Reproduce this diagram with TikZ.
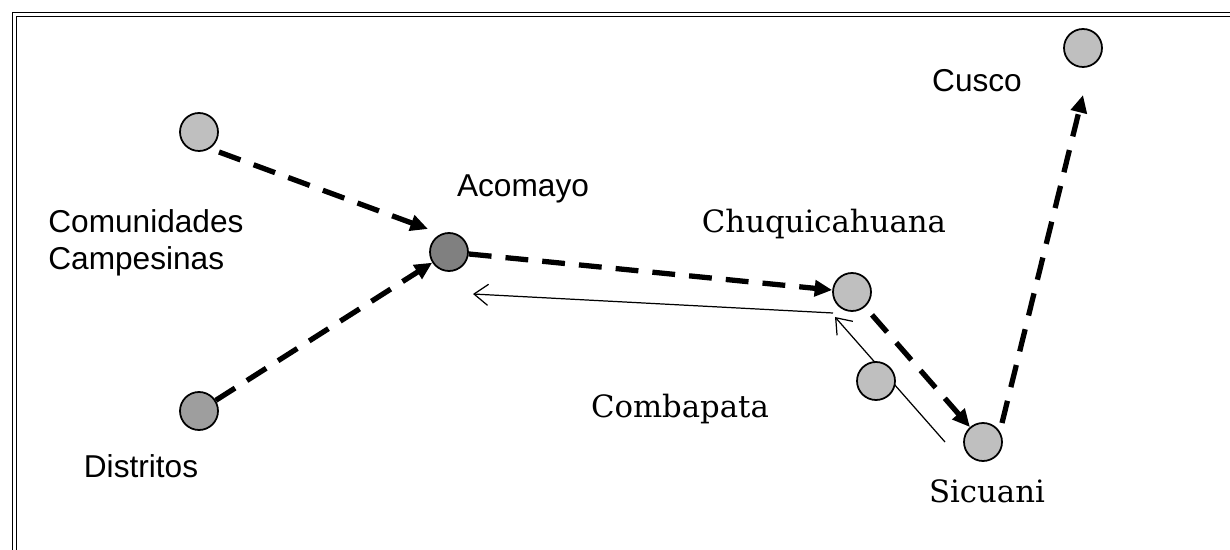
\documentclass[tikz,border=0pt]{standalone}
\usepackage{fontspec}
\setmainfont{Liberation Sans}
\newfontfamily\slabfont{DejaVu Serif}
\usetikzlibrary{arrows.meta,calc}
\definecolor{hubgray}{gray}{0.5}
\definecolor{distgray}{gray}{0.62}

\begin{document}
\begin{tikzpicture}[
        x=0.02cm, y=-0.02cm,
        town/.style={circle, draw, line width=1pt, fill=lightgray, minimum size=0.76cm, inner sep=0pt},
        route/.style={line width=3pt, dash pattern=on 13pt off 8pt, -{Triangle[length=10pt,width=9pt]}},
        back/.style={line width=0.7pt, -{Straight Barb[length=8pt,width=12pt]}},
        lbl/.style={font=\fontsize{18}{21}\selectfont},
        slab/.style={font=\fontsize{17.5}{21}\slabfont},
    ]
        \useasboundingbox (0,0) rectangle (1230,550);
        \clip (0,0) rectangle (1230,550);
        \draw[double, line width=0.9pt, double distance=1.3pt] (14.5,14.5) rectangle (1300,600);

        \node[town] (com) at (199,132) {};
        \node[town, fill=distgray] (dis) at (199,411) {};
        \node[town, fill=hubgray] (aco) at (449,252) {};
        \node[town] (chu) at (852,292) {};
        \node[town] (sic) at (983,442) {};
        \node[town] (cus) at (1083,48) {};

        \node[lbl, align=left, anchor=base west, inner sep=0pt] (comlbl) at (48,270) {Comunidades\\[0.5pt]Campesinas};
        \node[lbl, anchor=base] (dislbl) at (141,477) {Distritos};
        \node[lbl, anchor=base] (acolbl) at (523,197) {Acomayo};
        \node[lbl, anchor=base] (cuslbl) at (977,92) {Cusco};
        \node[slab, anchor=base] (chulbl) at (824,233) {Chuquicahuana};
        \node[slab, anchor=base] (cmblbl) at (680,417) {Combapata};
        \node[slab, anchor=base] (siclbl) at (987,502) {Sicuani};

        % thin return lines, Combapata sits on top of them
        \draw[back] ($(chu)+(-19,21)$) -- ($(aco)+(24,42)$);
        \draw[back] ($(sic)+(-38,0)$) -- ($(chu)+(-17,25)$);
        \node[town] (cmb) at (876,381) {};

        \draw[route] ($(com)+(20,20)$) -- ($(aco)+(-21,-23)$);
        \draw[route] (dis) -- (aco);
        \draw[route] (aco) -- (chu);
        \draw[route, shorten <=6pt] (chu) -- (sic);
        \draw[route] ($(sic)+(19,-19)$) -- ($(cus)+(0,47)$);
    \end{tikzpicture}
\end{document}
